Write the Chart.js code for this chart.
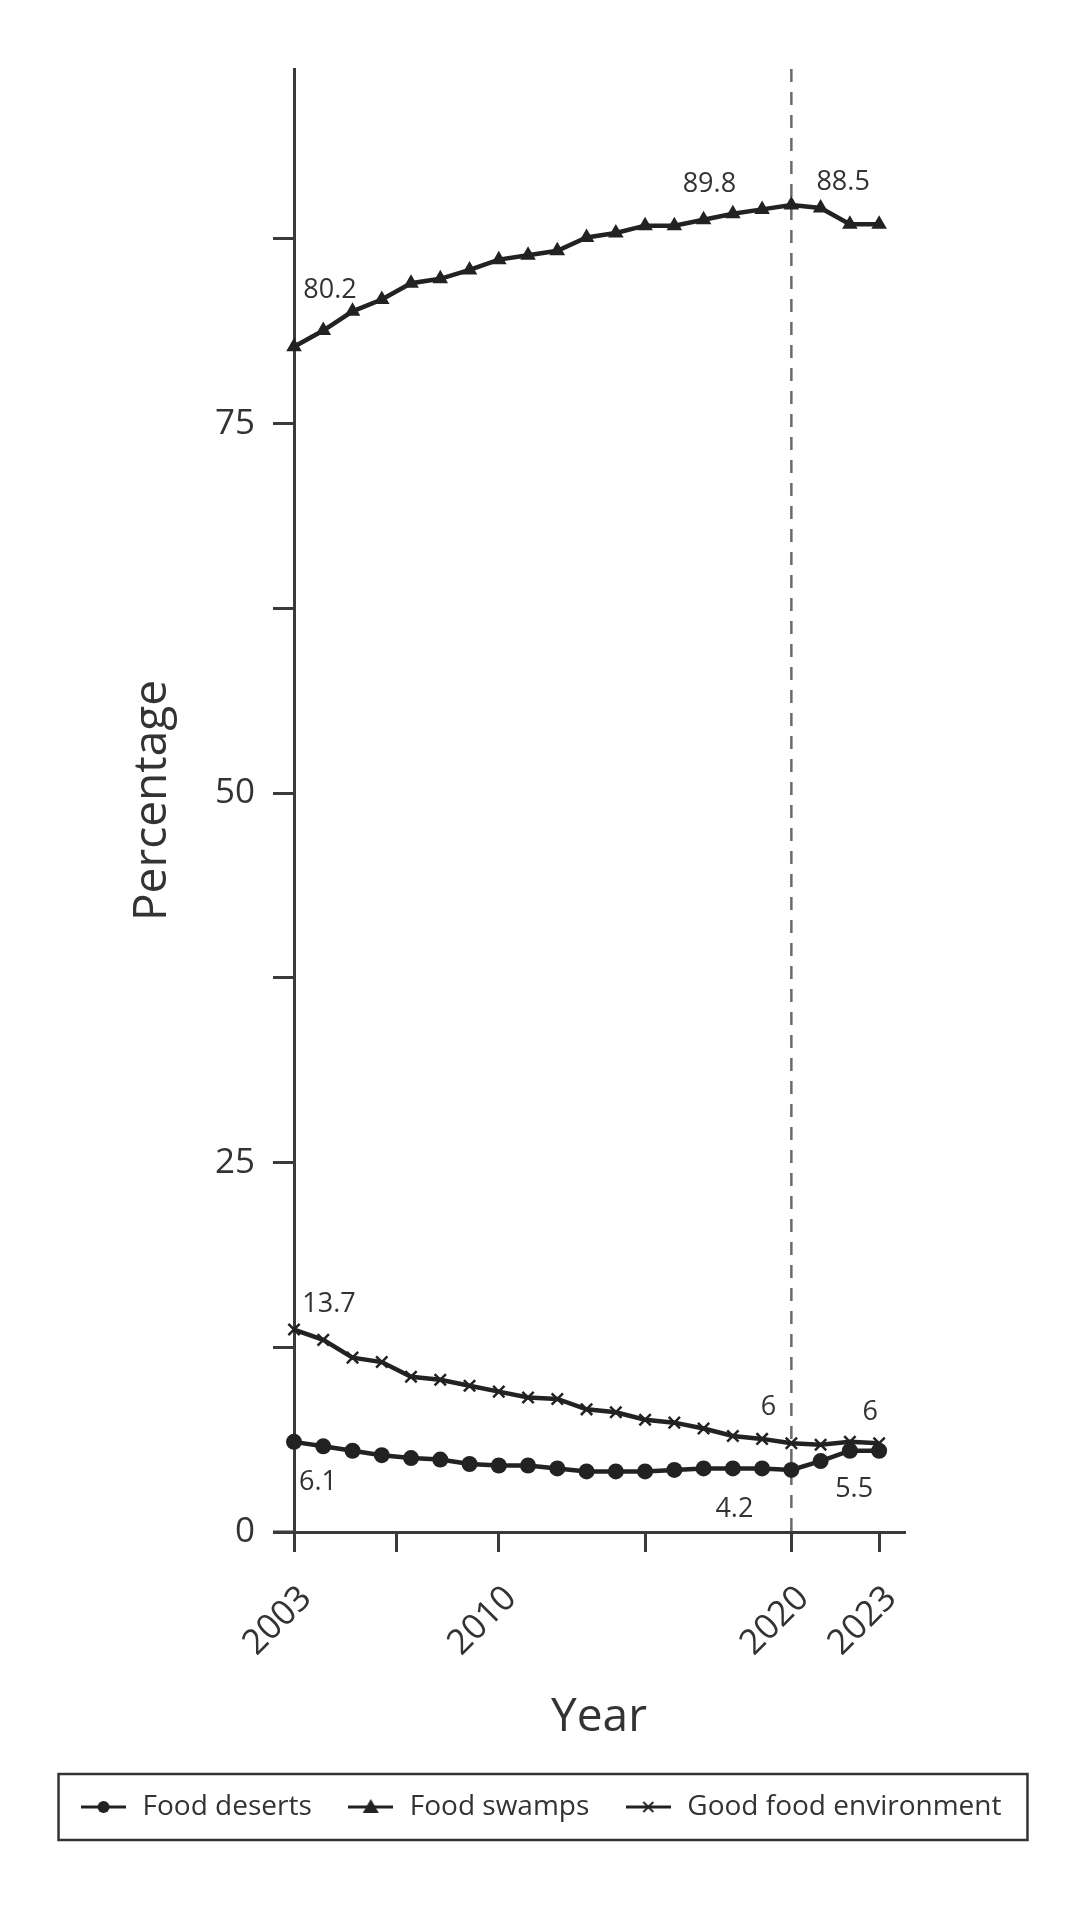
<!DOCTYPE html>
<html>
<head>
<meta charset="utf-8">
<script src="https://cdn.jsdelivr.net/npm/chart.js@4.4.1/dist/chart.umd.min.js"></script>
<style>
  html, body { margin: 0; padding: 0; background: #fff; }
  #wrap { width: 1080px; height: 1920px; }
</style>
</head>
<body>
<div id="wrap"><canvas id="foodChart"></canvas></div>
<script>
const years = [2003, 2004, 2005, 2006, 2007, 2008, 2009, 2010, 2011, 2012, 2013,
               2014, 2015, 2016, 2017, 2018, 2019, 2020, 2021, 2022, 2023];
const foodDeserts = [6.1, 5.8, 5.5, 5.2, 5.0, 4.9, 4.6, 4.5, 4.5, 4.3, 4.1,
                     4.1, 4.1, 4.2, 4.3, 4.3, 4.3, 4.2, 4.8, 5.5, 5.5];
const foodSwamps = [80.2, 81.3, 82.6, 83.4, 84.5, 84.8, 85.4, 86.1, 86.4, 86.7, 87.6,
                    87.9, 88.4, 88.4, 88.8, 89.2, 89.5, 89.8, 89.6, 88.5, 88.5];
const goodFood = [13.7, 13.0, 11.8, 11.5, 10.5, 10.3, 9.9, 9.5, 9.1, 9.0, 8.3,
                  8.1, 7.6, 7.4, 7.0, 6.5, 6.3, 6, 5.9, 6.1, 6];
const seriesNames = ['Food deserts', 'Food swamps', 'Good food environment'];

const xTickValues = [2003, 2006.5, 2010, 2015, 2020, 2023];
const xTickLabels = [2003, 2010, 2020, 2023];
const yTickValues = [0, 12.5, 25, 37.5, 50, 62.5, 75, 87.5];
const yTickLabels = [0, 25, 50, 75];
const markYear = 2020;

const ink = '#222222';
const axisInk = '#3a3a3a';
const textInk = '#333333';

Chart.defaults.font.family = '"Open Sans", "Noto Sans", sans-serif';
Chart.defaults.color = textInk;

function toPoints(vals) {
  return years.map((y, i) => ({ x: y, y: vals[i] }));
}

// little line+marker icons for the legend
function legendIcon(kind) {
  const c = document.createElement('canvas');
  c.width = 45; c.height = 20;
  const g = c.getContext('2d');
  g.strokeStyle = ink; g.fillStyle = ink; g.lineWidth = 3;
  g.beginPath(); g.moveTo(0, 10); g.lineTo(45, 10); g.stroke();
  if (kind === 'circle') {
    g.beginPath(); g.arc(22.5, 10, 6, 0, Math.PI * 2); g.fill();
  } else if (kind === 'triangle') {
    g.beginPath(); g.moveTo(22.5, 2); g.lineTo(30.5, 16); g.lineTo(14.5, 16); g.closePath(); g.fill();
  } else {
    g.lineWidth = 2;
    g.beginPath(); g.moveTo(17.5, 5); g.lineTo(27.5, 15); g.moveTo(27.5, 5); g.lineTo(17.5, 15); g.stroke();
  }
  return c;
}
const legendIcons = [legendIcon('circle'), legendIcon('triangle'), legendIcon('cross')];

// which points get a value label, and where (px offset from the point)
const valueLabels = [
  { ds: 1, i: 0, dx: 36, dy: -57 },
  { ds: 1, i: 17, dx: -82, dy: -21 },
  { ds: 1, i: 20, dx: -36, dy: -42 },
  { ds: 2, i: 0, dx: 35, dy: -25 },
  { ds: 2, i: 17, dx: -23, dy: -36 },
  { ds: 2, i: 20, dx: -9, dy: -31 },
  { ds: 0, i: 0, dx: 24, dy: 40 },
  { ds: 0, i: 17, dx: -57, dy: 39 },
  { ds: 0, i: 20, dx: -25, dy: 39 }
];

const extras = {
  id: 'extras',
  beforeDatasetsDraw(chart) {
    const { ctx, chartArea, scales } = chart;
    const x = scales.x.getPixelForValue(markYear);
    ctx.save();
    ctx.strokeStyle = '#6a6a6a';
    ctx.lineWidth = 2.5;
    ctx.setLineDash([13, 10]);
    ctx.beginPath();
    ctx.moveTo(x, chartArea.top);
    ctx.lineTo(x, chartArea.bottom);
    ctx.stroke();
    ctx.restore();
  },
  afterDatasetsDraw(chart) {
    const ctx = chart.ctx;
    ctx.save();
    ctx.font = '27px "Open Sans", sans-serif';
    ctx.fillStyle = textInk;
    ctx.textAlign = 'center';
    ctx.textBaseline = 'middle';
    valueLabels.forEach(l => {
      const pt = chart.getDatasetMeta(l.ds).data[l.i];
      const v = chart.data.datasets[l.ds].data[l.i].y;
      ctx.fillText(String(v), pt.x + l.dx, pt.y + l.dy);
    });
    ctx.restore();
  },
  afterDraw(chart) {
    const { ctx, chartArea } = chart;
    ctx.save();
    // x axis line runs a bit past the y axis, like the original
    ctx.strokeStyle = axisInk;
    ctx.lineWidth = 3;
    ctx.beginPath();
    ctx.moveTo(chartArea.left - 21, chartArea.bottom);
    ctx.lineTo(chartArea.left, chartArea.bottom);
    ctx.stroke();
    // frame round the legend
    const boxes = chart.legend.legendHitBoxes;
    if (boxes && boxes.length) {
      const left = Math.min(...boxes.map(b => b.left)) - 20;
      const right = Math.max(...boxes.map(b => b.left + b.width)) + 26;
      const cy = boxes[0].top + boxes[0].height / 2;
      ctx.strokeStyle = '#333';
      ctx.lineWidth = 2.5;
      ctx.strokeRect(left, cy - 33, right - left, 66);
    }
    ctx.restore();
  }
};

new Chart(document.getElementById('foodChart'), {
  type: 'line',
  data: {
    datasets: [
      {
        label: seriesNames[0], data: toPoints(foodDeserts),
        borderColor: ink, backgroundColor: ink, borderWidth: 4.5,
        pointStyle: 'circle', pointRadius: 8, pointBorderWidth: 0,
        pointBackgroundColor: ink, clip: false
      },
      {
        label: seriesNames[1], data: toPoints(foodSwamps),
        borderColor: ink, backgroundColor: ink, borderWidth: 4.5,
        pointStyle: 'triangle', pointRadius: 9, pointBorderWidth: 0,
        pointBackgroundColor: ink, clip: false
      },
      {
        label: seriesNames[2], data: toPoints(goodFood),
        borderColor: ink, backgroundColor: ink, borderWidth: 4.5,
        pointStyle: 'crossRot', pointRadius: 8, pointBorderWidth: 2.5,
        pointBorderColor: ink, clip: false
      }
    ]
  },
  options: {
    responsive: true,
    maintainAspectRatio: false,
    animation: false,
    layout: { padding: { left: 0, top: 69, right: 0, bottom: 89 } },
    scales: {
      x: {
        type: 'linear', min: 2003, max: 2023.85,
        afterBuildTicks: s => { s.ticks = xTickValues.map(v => ({ value: v })); },
        afterFit: s => { s.height = 227; },
        ticks: {
          autoSkip: false, minRotation: 45, maxRotation: 45, padding: 26, labelOffset: 12,
          font: { size: 35 }, color: textInk,
          callback: v => xTickLabels.includes(v) ? String(v) : ''
        },
        grid: { drawOnChartArea: false, tickLength: 20, lineWidth: 3, color: axisInk },
        border: { color: axisInk, width: 3 },
        title: { display: true, text: 'Year', font: { size: 46 }, color: textInk, padding: { top: 0, bottom: 14 } }
      },
      y: {
        type: 'linear', min: 0, max: 99,
        afterBuildTicks: s => { s.ticks = yTickValues.map(v => ({ value: v })); },
        afterFit: s => { s.width = 294; },
        ticks: {
          padding: 18, font: { size: 35 }, color: textInk,
          callback: v => yTickLabels.includes(v) ? String(v) : ''
        },
        grid: { drawOnChartArea: false, tickLength: 21, lineWidth: 3, color: axisInk },
        border: { color: axisInk, width: 3 },
        title: { display: true, text: 'Percentage', font: { size: 46 }, color: textInk, padding: { top: 125, bottom: 0 } }
      },
      // empty right-hand axis, only there to hold the right margin
      yPad: {
        type: 'linear', position: 'right', min: 0, max: 99,
        ticks: { display: false },
        grid: { display: false },
        border: { display: false },
        afterFit: s => { s.width = 176; }
      }
    },
    plugins: {
      tooltip: { enabled: false },
      legend: {
        position: 'bottom',
        labels: {
          usePointStyle: true, pointStyleWidth: 50, padding: 34,
          font: { size: 28 }, color: textInk,
          generateLabels: chart => {
            const items = Chart.defaults.plugins.legend.labels.generateLabels(chart);
            items.forEach(it => { it.pointStyle = legendIcons[it.datasetIndex]; });
            return items;
          }
        }
      }
    }
  },
  plugins: [extras]
});
</script>
</body>
</html>
